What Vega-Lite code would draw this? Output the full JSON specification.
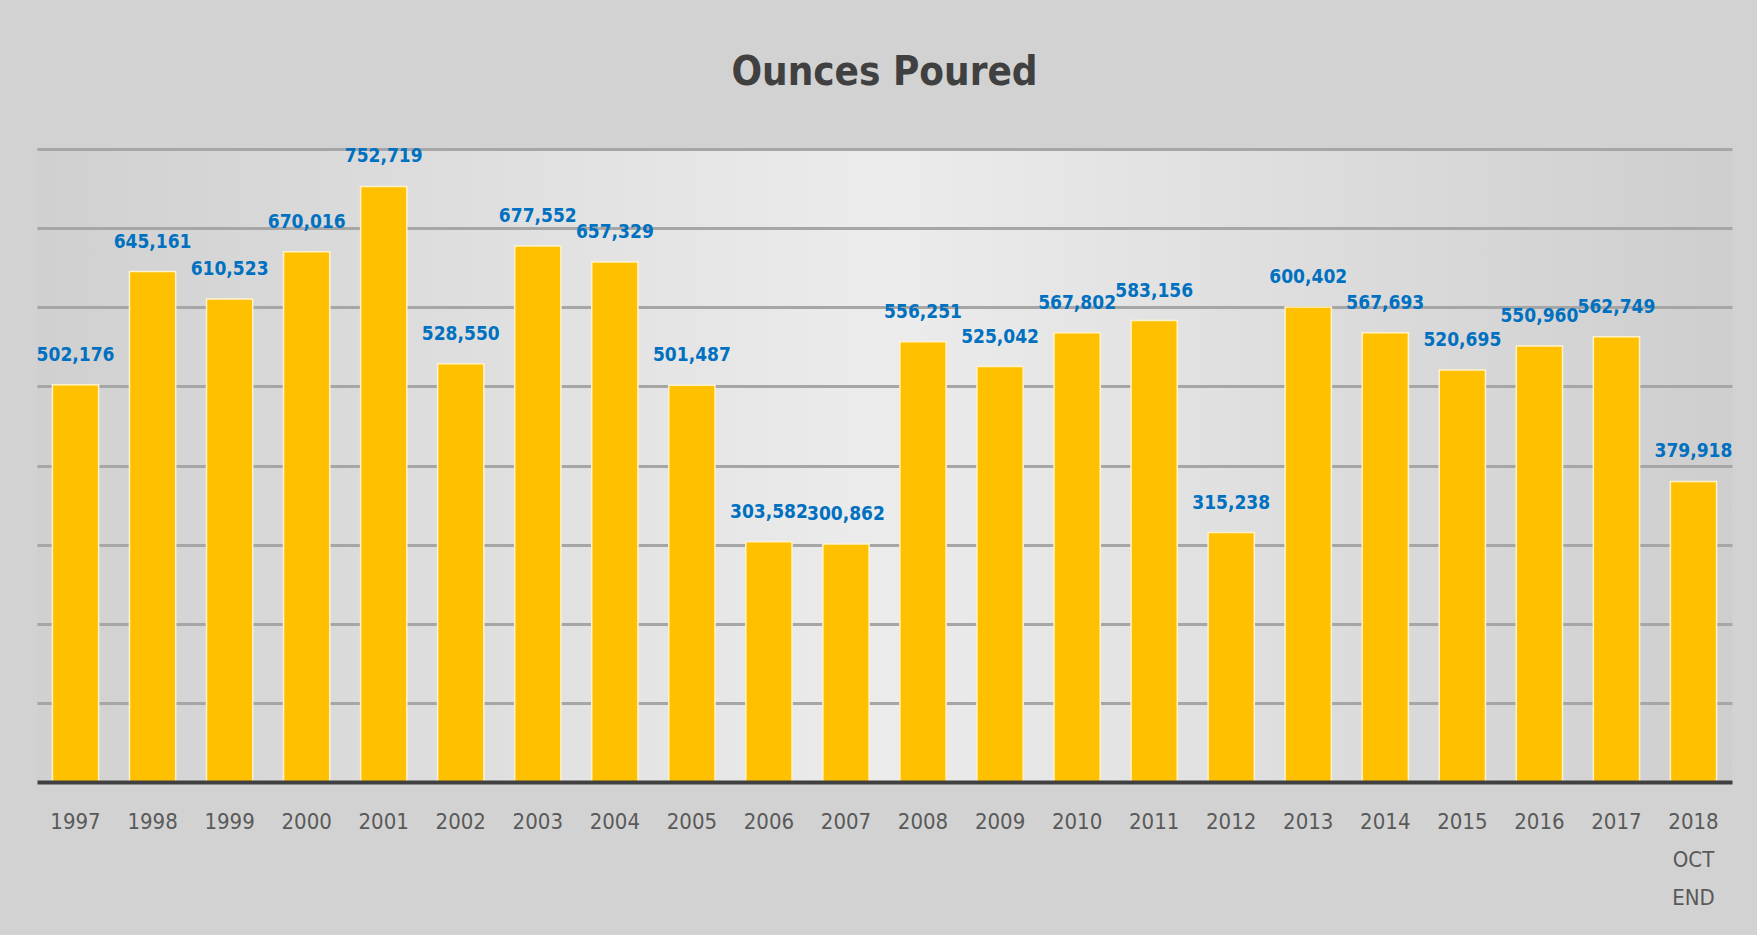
{
  "$schema": "https://vega.github.io/schema/vega-lite/v6.json",
  "width": 1695,
  "height": 633,
  "autosize": {"type": "none"},
  "padding": {"left": 37, "top": 149, "right": 25, "bottom": 153},
  "background": "#d2d2d2",
  "title": {
    "text": "Ounces Poured",
    "font": "DejaVu Sans Condensed, sans-serif",
    "fontSize": 40,
    "fontWeight": "bold",
    "color": "#404040",
    "anchor": "middle",
    "baseline": "alphabetic",
    "offset": 22
  },
  "config": {
    "view": {
      "stroke": null,
      "fill": {
        "gradient": "linear",
        "x1": 0, "y1": 0, "x2": 1, "y2": 0,
        "stops": [
          {"offset": 0, "color": "#d0d0d0"},
          {"offset": 0.5, "color": "#ececec"},
          {"offset": 1, "color": "#cecece"}
        ]
      }
    }
  },
  "data": {
    "values": [
      {"year": "1997", "ounces": 502176},
      {"year": "1998", "ounces": 645161},
      {"year": "1999", "ounces": 610523},
      {"year": "2000", "ounces": 670016},
      {"year": "2001", "ounces": 752719},
      {"year": "2002", "ounces": 528550},
      {"year": "2003", "ounces": 677552},
      {"year": "2004", "ounces": 657329},
      {"year": "2005", "ounces": 501487},
      {"year": "2006", "ounces": 303582},
      {"year": "2007", "ounces": 300862},
      {"year": "2008", "ounces": 556251},
      {"year": "2009", "ounces": 525042},
      {"year": "2010", "ounces": 567802},
      {"year": "2011", "ounces": 583156},
      {"year": "2012", "ounces": 315238},
      {"year": "2013", "ounces": 600402},
      {"year": "2014", "ounces": 567693},
      {"year": "2015", "ounces": 520695},
      {"year": "2016", "ounces": 550960},
      {"year": "2017", "ounces": 562749},
      {"year": "2018 OCT END", "ounces": 379918}
    ]
  },
  "encoding": {
    "x": {
      "field": "year",
      "type": "nominal",
      "sort": null,
      "scale": {"paddingInner": 0.4, "paddingOuter": 0.2},
      "axis": {
        "title": null,
        "labelAngle": 0,
        "labelExpr": "split(datum.value, ' ')",
        "labelFont": "DejaVu Sans Condensed, sans-serif",
        "labelFontSize": 22,
        "labelColor": "#595959",
        "labelLineHeight": 38,
        "labelPadding": 29,
        "labelBaseline": "top",
        "ticks": false,
        "domainColor": "#404040",
        "domainWidth": 4,
        "grid": false,
        "zindex": 2
      }
    },
    "y": {
      "field": "ounces",
      "type": "quantitative",
      "scale": {"domain": [0, 800000], "nice": false},
      "axis": {
        "title": null,
        "labels": false,
        "ticks": false,
        "domain": false,
        "values": [100000, 200000, 300000, 400000, 500000, 600000, 700000, 800000],
        "grid": true,
        "gridColor": "#a6a6a6",
        "gridWidth": 3
      }
    }
  },
  "layer": [
    {
      "mark": {"type": "bar", "color": "#FFC000", "stroke": "#FFF2CC", "strokeWidth": 1.5}
    },
    {
      "mark": {
        "type": "text",
        "baseline": "alphabetic",
        "dy": -24,
        "font": "DejaVu Sans Condensed, sans-serif",
        "fontSize": 19,
        "fontWeight": "bold",
        "color": "#0070C0"
      },
      "encoding": {
        "text": {"field": "ounces", "type": "quantitative", "format": ",d"}
      }
    }
  ]
}
